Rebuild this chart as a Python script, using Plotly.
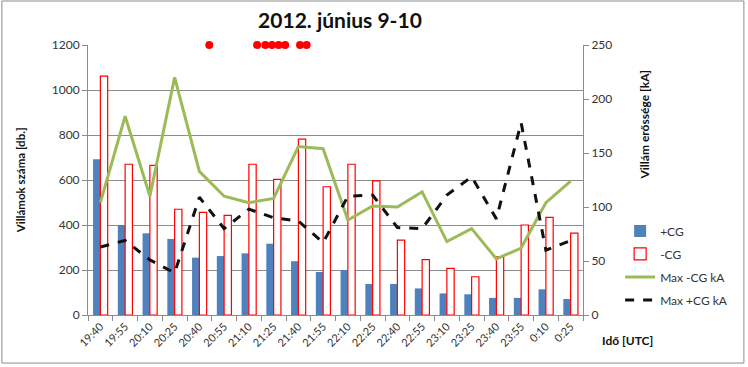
import plotly.graph_objects as go

times = ["19:40", "19:55", "20:10", "20:25", "20:40", "20:55", "21:10", "21:25", "21:40", "21:55",
         "22:10", "22:25", "22:40", "22:55", "23:10", "23:25", "23:40", "23:55", "0:10", "0:25"]
pos_cg = [692, 400, 363, 338, 255, 262, 274, 317, 239, 191,
          200, 138, 138, 118, 96, 92, 76, 76, 114, 71]
neg_cg = [1062, 670, 665, 470, 456, 443, 670, 603, 782, 570,
          670, 596, 333, 246, 207, 170, 258, 400, 434, 364]
max_neg_ka = [104, 184, 110, 220, 133, 110, 104, 108, 156, 154,
              88, 101, 100, 114, 68, 80, 52, 62, 104, 124]
max_pos_ka = [63, 69, 51, 39, 109, 80, 98, 90, 87, 67,
              110, 111, 81, 80, 111, 128, 89, 178, 60, 69]
# special events (minutes after 19:40), shown at the top of the chart
event_minutes = [66, 95, 100, 104, 108, 112, 121, 125]
event_level = [1200] * len(event_minutes)

FONT = "Lato, 'Liberation Sans', sans-serif"
TXT = "#333333"
GRID = "#8c8c8c"

fig = go.Figure()
fig.add_trace(go.Bar(x=times, y=pos_cg, name="+CG", legendgroup="a",
                     marker=dict(color="#4F81BD", line=dict(width=0))))
fig.add_trace(go.Bar(x=times, y=neg_cg, name="-CG", legendgroup="b",
                     marker=dict(color="white", line=dict(color="#FF0000", width=1.2))))
fig.add_trace(go.Scatter(x=times, y=max_neg_ka, name="Max -CG kA", legendgroup="c", yaxis="y2", mode="lines",
                         line=dict(color="#9BBB59", width=3)))
fig.add_trace(go.Scatter(x=times, y=max_pos_ka, name="Max +CG kA", legendgroup="d", yaxis="y2", mode="lines",
                         line=dict(color="#111111", width=3, dash="dash")))
fig.add_trace(go.Scatter(x=[m / 15 for m in event_minutes], y=event_level, xaxis="x2", mode="markers",
                         marker=dict(color="#FF0000", size=8), showlegend=False, cliponaxis=False))

fig.update_layout(
    width=748, height=367,
    margin=dict(l=88, r=165, t=45, b=52),
    paper_bgcolor="white", plot_bgcolor="white",
    font=dict(family=FONT, size=11, color=TXT),
    barmode="group", bargap=0.41, bargroupgap=0,
    showlegend=True,
    legend=dict(x=1.075, xanchor="left", y=0.365, yanchor="top", font=dict(size=12, color=TXT),
                bgcolor="rgba(0,0,0,0)", traceorder="grouped", itemwidth=30, tracegroupgap=4),
    xaxis=dict(type="category", tickangle=-45, ticks="outside", tickson="boundaries", ticklen=5,
               tickcolor=GRID, showline=True, linecolor=GRID, showgrid=False,
               tickfont=dict(size=11, color=TXT), range=[-0.5, 19.5]),
    xaxis2=dict(overlaying="x", range=[-0.5, 19.5], visible=False),
    yaxis=dict(range=[0, 1200], dtick=200, showgrid=True, gridcolor=GRID, gridwidth=1,
               showline=True, linecolor=GRID, ticks="outside", ticklen=5, tickcolor=GRID,
               tickfont=dict(size=12, color=TXT), zeroline=False),
    yaxis2=dict(range=[0, 250], dtick=50, overlaying="y", side="right", showgrid=False,
                showline=True, linecolor=GRID, ticks="outside", ticklen=5, tickcolor=GRID,
                tickfont=dict(size=12, color=TXT), zeroline=False),
    title=dict(text="<b>2012. június 9-10</b>", x=0.4545, xanchor="center", y=0.945, yanchor="middle",
               font=dict(size=21, color="#111111")),
)

fig.add_annotation(text="<b>Villámok száma [db.]</b>", xref="paper", yref="paper", x=-0.137, y=0.5,
                   xanchor="center", yanchor="middle",
                   textangle=-90, showarrow=False, font=dict(size=11.5, color="#111111"))
fig.add_annotation(text="<b>Villám erőssége [kA]</b>", xref="paper", yref="paper", x=1.125, y=0.705,
                   xanchor="center", yanchor="middle",
                   textangle=-90, showarrow=False, font=dict(size=12, color="#111111"))
fig.add_annotation(text="<b>Idő [UTC]</b>", xref="paper", yref="paper", x=1.089, y=-0.093,
                   xanchor="center", yanchor="middle",
                   showarrow=False, font=dict(size=12, color="#111111"))
fig.add_shape(type="rect", xref="paper", yref="paper", x0=-0.174, x1=1.325, y0=-0.178, y1=1.163,
              line=dict(color="#8c8c8c", width=1), layer="below")

fig.write_html("out.html", config={"displayModeBar": False},
               post_script="document.body.style.margin='0';document.body.style.overflow='hidden';")
